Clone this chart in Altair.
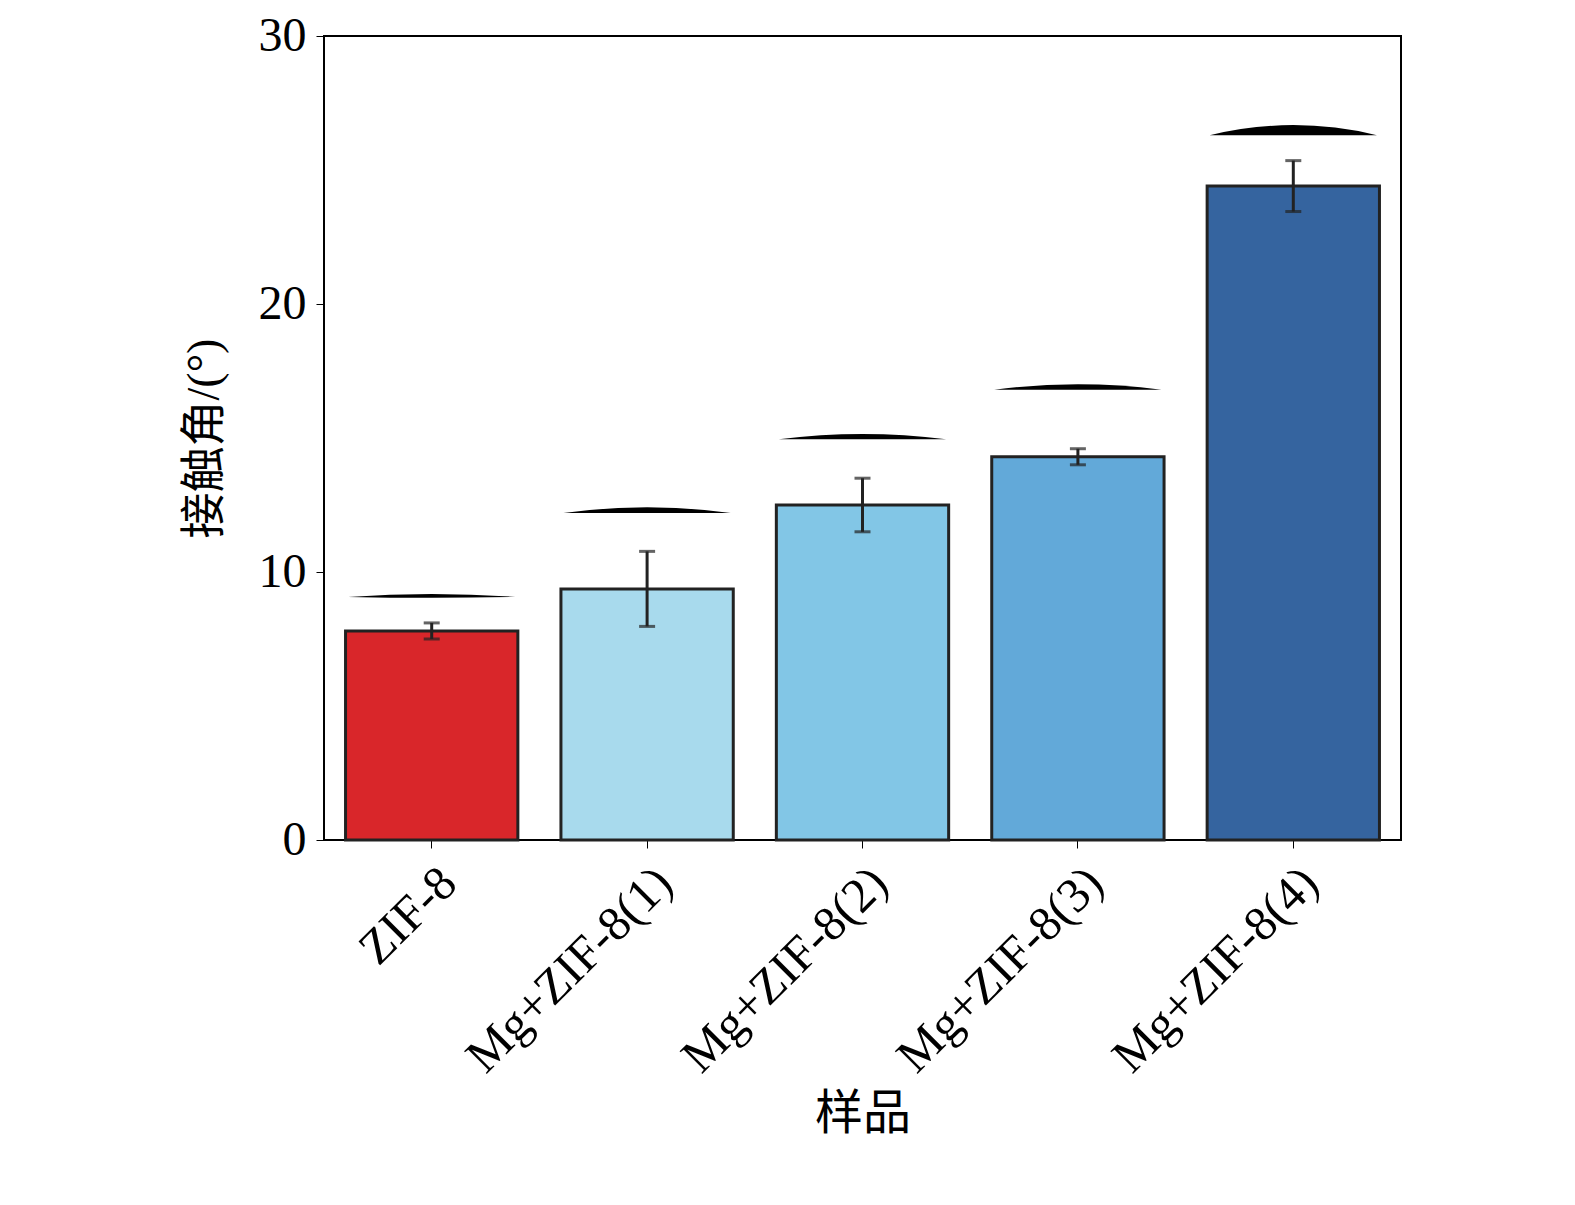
import altair as alt
import pandas as pd

samples = ["ZIF-8", "Mg+ZIF-8(1)", "Mg+ZIF-8(2)", "Mg+ZIF-8(3)", "Mg+ZIF-8(4)"]
angles = [7.8, 9.37, 12.5, 14.3, 24.4]
errs = [0.3, 1.4, 1.0, 0.3, 0.95]
colors = ["#d9262a", "#a8daed", "#82c6e6", "#62a9d9", "#35649f"]
drop_y = [9.07, 12.2, 14.95, 16.8, 26.3]
drop_shape = ["M-1,0Q0,-0.07,1,0Q0,0.02,-1,0Z",
              "M-1,0Q0,-0.14,1,0Z",
              "M-1,0Q0,-0.13,1,0Z",
              "M-1,0Q0,-0.13,1,0Z",
              "M-1,0Q0,-0.24,1,0Z"]

df = pd.DataFrame({"s": samples, "v": angles, "lo": [a - e for a, e in zip(angles, errs)],
                   "hi": [a + e for a, e in zip(angles, errs)], "c": colors,
                   "dy": drop_y, "shp": [f"d{i}" for i in range(5)]})

font = "Liberation Serif, Noto Sans CJK SC"
x = alt.X("s:N", sort=samples, title="样品", scale=alt.Scale(paddingInner=0.2, paddingOuter=0.1),
          axis=alt.Axis(labelAngle=-45, labelFontSize=49, titleFontSize=48, labelFont=font,
                        titleFont=font, labelColor="black", titleColor="black", domainColor="black",
                        tickColor="black", tickSize=8, labelPadding=10, titlePadding=50,
                        titleFontWeight="normal", labelLimit=0))
y = alt.Y("v:Q", title="接触角/(°)", scale=alt.Scale(domain=[0, 30], nice=False),
          axis=alt.Axis(values=[0, 10, 20, 30], labelFontSize=48, titleFontSize=46, labelFont=font,
                        titleFont=font, labelColor="black", titleColor="black", domainColor="black",
                        tickColor="black", tickSize=8, grid=False, titlePadding=30, labelPadding=10,
                        titleFontWeight="normal"))

base = alt.Chart(df)
bars = base.mark_bar(stroke="#222", strokeWidth=3).encode(
    x=x, y=y, color=alt.Color("c:N", scale=None))
err = base.mark_rule(color="#222", strokeWidth=3).encode(
    x=alt.X("s:N", sort=samples), y=alt.Y("lo:Q"), y2="hi:Q")
cap_lo = base.mark_tick(color="#222", thickness=3, size=16, orient="horizontal").encode(
    x=alt.X("s:N", sort=samples), y=alt.Y("lo:Q"))
cap_hi = base.mark_tick(color="#222", thickness=3, size=16, orient="horizontal").encode(
    x=alt.X("s:N", sort=samples), y=alt.Y("hi:Q"))
drops = base.mark_point(filled=True, color="black", opacity=1, size=28000).encode(
    x=alt.X("s:N", sort=samples), y=alt.Y("dy:Q"),
    shape=alt.Shape("shp:N", scale=alt.Scale(domain=[f"d{i}" for i in range(5)], range=drop_shape),
                    legend=None))

chart = alt.layer(bars, err, cap_lo, cap_hi, drops).properties(
    width=1077, height=804, padding={"left": 173, "top": 4, "right": 5, "bottom": 5}
).configure_view(stroke="black", strokeWidth=2)
chart.save("out.html", embed_options={"renderer": "svg", "actions": False})
